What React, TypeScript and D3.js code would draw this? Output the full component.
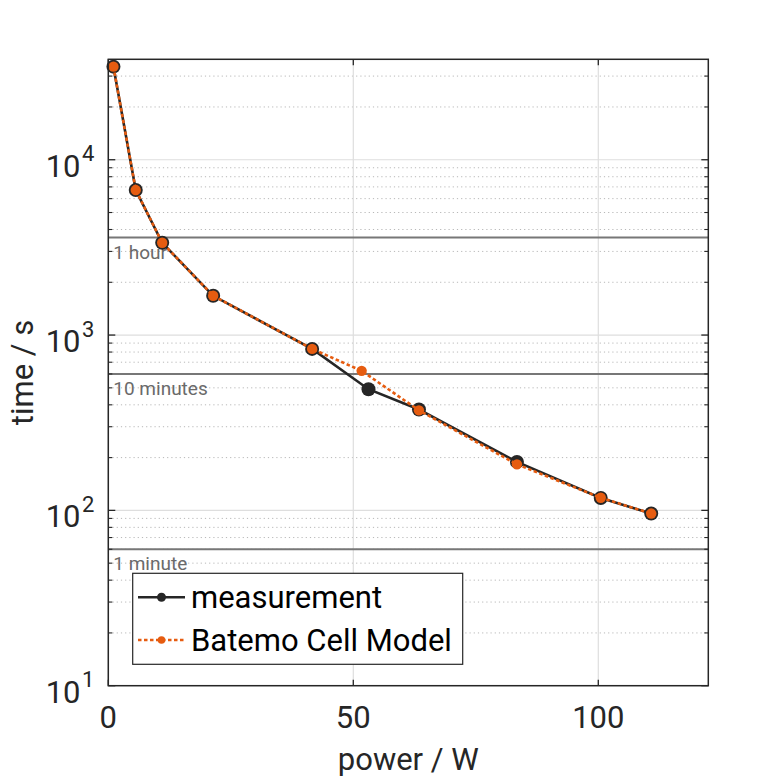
import React from "react";
import * as d3 from "d3";

const measPower = [1.05, 5.6, 11.0, 21.4, 41.6, 53.1, 63.4, 83.4, 100.5, 110.8];
const measTime = [33960, 6714, 3360, 1675, 834, 491, 376, 189, 117.7, 95.9];
const modelPower = [1.05, 5.6, 11.0, 21.4, 41.6, 51.7, 63.4, 83.4, 100.5, 110.8];
const modelTime = [33960, 6714, 3360, 1675, 834, 625, 372, 183, 118, 95.9];
const xTicks = [0, 50, 100];
const yDecades = [1, 2, 3, 4];
const refLines = [
  { value: 3600, label: "1 hour" },
  { value: 600, label: "10 minutes" },
  { value: 60, label: "1 minute" },
];
const legendLabels = ["measurement", "Batemo Cell Model"];

const W = 781;
const H = 781;
const L = 108.3, R = 708.3, T = 59.3, B = 685.7;
const FONT = "Roboto, 'Noto Sans', sans-serif";
const AX = "#262626";
const ORANGE = "#E65C10";
const DARK = "#262626";
const FS = 31;

export default function App() {
  const x = d3.scaleLinear().domain([0, 122.45]).range([L, R]);
  const y = d3.scaleLog().domain([10, 37400]).range([B, T]);

  const minors: number[] = [];
  for (const d of [1, 2, 3, 4]) {
    for (let m = 2; m <= 9; m++) {
      const v = m * Math.pow(10, d);
      if (v <= y.domain()[1]) minors.push(v);
    }
  }
  const majors = yDecades.map((d) => Math.pow(10, d));

  const line = d3
    .line<[number, number]>()
    .x((d) => x(d[0]))
    .y((d) => y(d[1]));
  const meas = measPower.map((p, i) => [p, measTime[i]] as [number, number]);
  const model = modelPower.map((p, i) => [p, modelTime[i]] as [number, number]);

  return (
    <div style={{ position: "absolute", left: 0, top: 0 }}>
      <svg width={W} height={H} style={{ display: "block", background: "#fff" }} fontFamily={FONT}>
        <rect x={0} y={0} width={W} height={H} fill="#fff" />
        {minors.map((v) => (
          <line key={"mg" + v} x1={L} x2={R} y1={y(v)} y2={y(v)} stroke="#b8b8b8" strokeWidth={1} strokeDasharray="1.2 3" />
        ))}
        {majors.map((v) => (
          <line key={"Mg" + v} x1={L} x2={R} y1={y(v)} y2={y(v)} stroke="#dedede" strokeWidth={1.2} />
        ))}
        {xTicks.map((v) => (
          <line key={"xg" + v} x1={x(v)} x2={x(v)} y1={T} y2={B} stroke="#dedede" strokeWidth={1.2} />
        ))}
        {refLines.map((r) => (
          <g key={r.label}>
            <line x1={L} x2={R} y1={y(r.value)} y2={y(r.value)} stroke="#777" strokeWidth={2} />
            <text x={L + 5} y={y(r.value) + 21} fontSize={19} fill="#6a6a6a">
              {r.label}
            </text>
          </g>
        ))}
        <path d={line(meas) || ""} fill="none" stroke={DARK} strokeWidth={2.6} />
        {meas.map((d, i) => (
          <circle key={"m" + i} cx={x(d[0])} cy={y(d[1])} r={7} fill={DARK} />
        ))}
        <path d={line(model) || ""} fill="none" stroke={ORANGE} strokeWidth={2.6} strokeDasharray="3.5 2.5" />
        {model.map((d, i) => (
          <circle key={"o" + i} cx={x(d[0])} cy={y(d[1])} r={5.2} fill={ORANGE} />
        ))}
        <rect x={L} y={T} width={R - L} height={B - T} fill="none" stroke={AX} strokeWidth={1.5} />
        {majors.map((v) => (
          <g key={"yt" + v}>
            <line x1={L} x2={L + 7} y1={y(v)} y2={y(v)} stroke={AX} strokeWidth={1.3} />
            <line x1={R} x2={R - 7} y1={y(v)} y2={y(v)} stroke={AX} strokeWidth={1.3} />
          </g>
        ))}
        {minors.map((v) => (
          <g key={"ymt" + v}>
            <line x1={L} x2={L + 4} y1={y(v)} y2={y(v)} stroke={AX} strokeWidth={1.1} />
            <line x1={R} x2={R - 4} y1={y(v)} y2={y(v)} stroke={AX} strokeWidth={1.1} />
          </g>
        ))}
        {xTicks.map((v) => (
          <g key={"xt" + v}>
            <line x1={x(v)} x2={x(v)} y1={B} y2={B - 6} stroke={AX} strokeWidth={1.3} />
            <line x1={x(v)} x2={x(v)} y1={T} y2={T + 6} stroke={AX} strokeWidth={1.3} />
          </g>
        ))}
        {xTicks.map((v) => (
          <text key={"xl" + v} x={x(v)} y={728} fontSize={FS} fill={AX} textAnchor="middle">
            {v}
          </text>
        ))}
        {yDecades.map((d) => (
          <g key={"yl" + d}>
            <text x={80.5} y={y(Math.pow(10, d)) + 17} fontSize={FS} fill={AX} textAnchor="end">
              10
            </text>
            <text x={82} y={y(Math.pow(10, d)) + 1.5} fontSize={22} fill={AX} textAnchor="start">
              {d}
            </text>
          </g>
        ))}
        <text x={(L + R) / 2} y={770} fontSize={FS} fill={AX} textAnchor="middle">
          power / W
        </text>
        <text transform={`translate(33,${(T + B) / 2}) rotate(-90)`} fontSize={FS} fill={AX} textAnchor="middle">
          time / s
        </text>
        <rect x={132.7} y={573.3} width={330} height={91} fill="#fff" stroke={AX} strokeWidth={1.2} />
        <line x1={138} x2={185} y1={597.3} y2={597.3} stroke={DARK} strokeWidth={2.6} />
        <circle cx={161.5} cy={597.3} r={4.5} fill={DARK} />
        <line x1={138} x2={185} y1={640} y2={640} stroke={ORANGE} strokeWidth={2.6} strokeDasharray="3.5 2.5" />
        <circle cx={161.5} cy={640} r={3.8} fill={ORANGE} />
        <text x={191} y={608} fontSize={FS} fill="#000">
          {legendLabels[0]}
        </text>
        <text x={191} y={650.7} fontSize={FS} fill="#000">
          {legendLabels[1]}
        </text>
      </svg>
    </div>
  );
}
